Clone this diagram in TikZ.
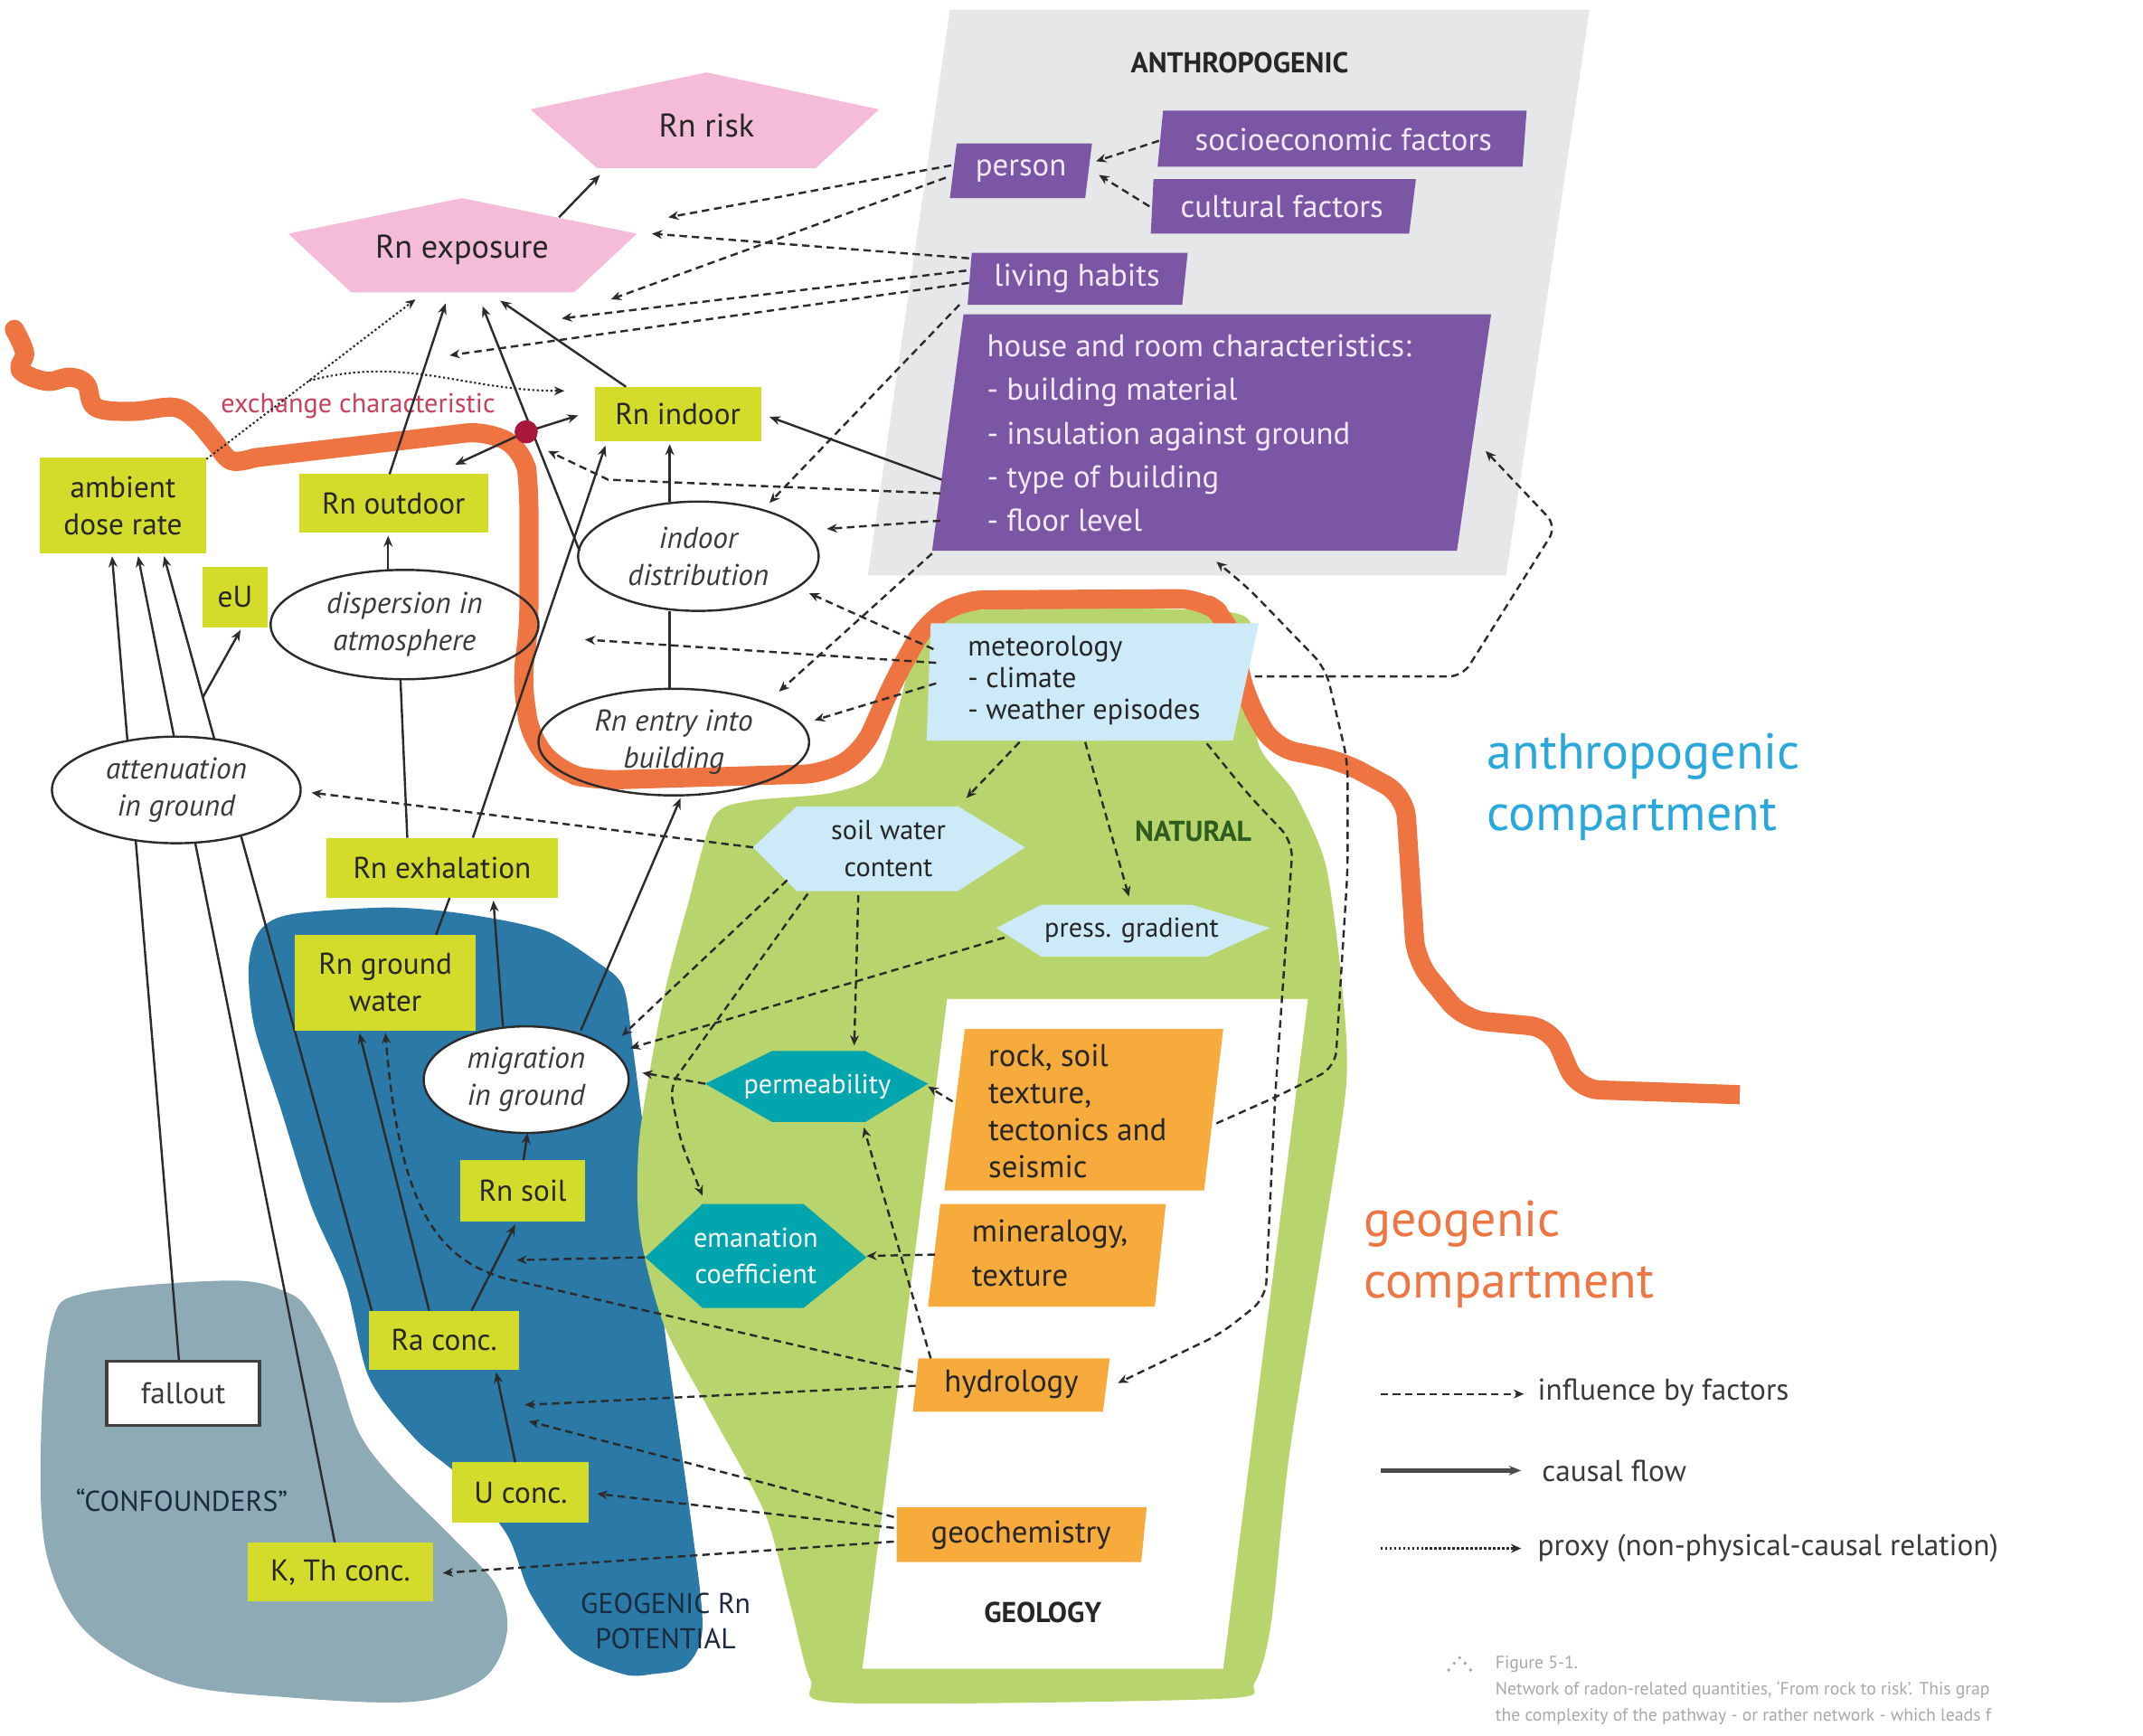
\documentclass[tikz,border=0pt]{standalone}
\usepackage{fontspec}
\setmainfont{PT Sans}
\usetikzlibrary{arrows.meta,calc,shapes.geometric}
\pgfdeclarelayer{back}
\pgfdeclarelayer{front}
\pgfsetlayers{back,main,front}
\definecolor{cGray}{HTML}{E6E7E9}
\definecolor{cOrLine}{HTML}{EE7441}
\definecolor{cGreen}{HTML}{B7D56C}
\definecolor{cBlue}{HTML}{2B79A7}
\definecolor{cConf}{HTML}{8DAAB5}
\definecolor{cYel}{HTML}{D4DC2B}
\definecolor{cPurple}{HTML}{7A56A4}
\definecolor{cPTxt}{HTML}{F2EAFA}
\definecolor{cPink}{HTML}{F4BCD8}
\definecolor{cLBlue}{HTML}{CCEAF8}
\definecolor{cTeal}{HTML}{00A5AE}
\definecolor{cOrBox}{HTML}{F7AB3C}
\definecolor{cRed}{HTML}{A8183A}
\definecolor{cExch}{HTML}{C9405A}
\definecolor{cCyan}{HTML}{2AA8DC}
\definecolor{cGeo}{HTML}{EE7643}
\definecolor{cNat}{HTML}{2E5B1E}
\definecolor{cLine}{HTML}{2B2B2B}
\definecolor{cCap}{HTML}{A8A8A8}
\definecolor{cTxt}{HTML}{262626}
\definecolor{cTxtE}{HTML}{3A3A3A}
\definecolor{cNavy}{HTML}{1B2B3F}
\tikzset{
 ybox/.style={fill=cYel, inner sep=0pt, align=center, text=cTxt, font=\fontsize{22}{27}\selectfont},
 ell/.style={ellipse, draw=cLine, line width=1.6pt, inner sep=0pt},
 etxt/.style={font=\itshape\fontsize{22}{27}\selectfont, align=center, text=cTxtE, inner sep=0pt},
 ptxt/.style={text=cPTxt, font=\fontsize{23}{32}\selectfont, inner sep=0pt},
 btxt/.style={text=cTxt, font=\fontsize{22}{27}\selectfont, inner sep=0pt, align=center},
 ltxt/.style={text=cTxt, font=\fontsize{20}{27}\selectfont, inner sep=0pt, align=center},
 wtxt/.style={text=white, font=\fontsize{20}{26}\selectfont, inner sep=0pt, align=center},
 causal/.style={-{Stealth[length=8pt,width=6.5pt]}, line width=1.6pt, draw=cLine},
 plainln/.style={line width=1.6pt, draw=cLine},
 infl/.style={-{Stealth[length=7.5pt,width=6.5pt]}, line width=1.6pt, draw=cLine, dash pattern=on 5.5pt off 3.5pt},
 proxy/.style={-{Stealth[length=7.5pt,width=6.5pt]}, line width=1.4pt, draw=cLine, dash pattern=on 1.5pt off 1.8pt},
}
\begin{document}
\begin{tikzpicture}[x=1pt,y=-1pt]
\useasboundingbox (0,0) rectangle (1568,1270);

% ---------------- nodes ----------------
\node[ybox, minimum width=122pt, minimum height=40pt] (rnin) at (496,303) {Rn indoor};
\node[ybox, minimum width=138pt, minimum height=43pt] (rnout) at (288,368.5) {Rn outdoor};
\node[ybox, minimum width=122pt, minimum height=70pt] (amb) at (90,370) {ambient\\dose rate};
\node[ybox, minimum width=48pt, minimum height=44pt] (eu) at (172,437) {eU};
\node[ybox, minimum width=169pt, minimum height=44pt] (exh) at (323.5,635) {Rn exhalation};
\node[ybox, minimum width=132pt, minimum height=70pt] (gw) at (282,719) {Rn ground\\water};
\node[ybox, minimum width=91pt, minimum height=45pt] (soil) at (382.5,871.5) {Rn soil};
\node[ybox, minimum width=110pt, minimum height=43pt] (ra) at (325,980.5) {Ra conc.};
\node[ybox, minimum width=100pt, minimum height=44pt] (u) at (381,1092) {U conc.};
\node[ybox, minimum width=136pt, minimum height=43pt] (kth) at (249,1150.5) {K, Th conc.};
\node[draw=black!75, line width=2.5pt, fill=white, minimum width=112pt, minimum height=47pt, inner sep=0pt, text=cTxtE, font=\fontsize{22}{27}\selectfont] (fall) at (134,1019.5) {fallout};

\node[ell, minimum width=176pt, minimum height=80pt] (indist) at (511,407) {};
\node[etxt] (indistT) at (indist) {indoor\\distribution};
\node[ell, minimum width=196pt, minimum height=80pt] (disp) at (296,457) {};
\node[etxt] (dispT) at (disp) {dispersion in\\atmosphere};
\node[ell, minimum width=198pt, minimum height=78pt] (entry) at (493,543) {};
\node[etxt] (entryT) at (entry) {Rn entry into\\building};
\node[ell, minimum width=182pt, minimum height=78pt] (att) at (129,578) {};
\node[etxt] (attT) at (att) {attenuation\\in ground};
\node[ell, minimum width=150pt, minimum height=78pt] (mig) at (385,790) {};
\node[etxt] (migT) at (mig) {migration\\in ground};

\node[btxt, font=\fontsize{24}{28}\selectfont] (risk) at (517,92) {Rn risk};
\node[btxt, font=\fontsize{24}{28}\selectfont] (expo) at (338,183) {Rn exposure};

\node[ptxt] (person) at (747,125) {person};
\node[ptxt] (socio) at (983,102) {socioeconomic factors};
\node[ptxt] (cult) at (938,151) {cultural factors};
\node[ptxt] (hab) at (788,204) {living habits};
\node[ptxt, anchor=west, align=left] (house) at (722,317) {house and room characteristics:\\- building material\\- insulation against ground\\- type of building\\- floor level};

\node[anchor=west, align=left, text=cTxt, font=\fontsize{21}{23}\selectfont, inner sep=0pt] (met) at (708,498) {meteorology\\- climate\\- weather episodes};
\node[ltxt] (swc) at (650,621) {soil water\\content};
\node[ltxt] (press) at (828,681) {press. gradient};
\node[wtxt] (perm) at (598,795) {permeability};
\node[wtxt] (eman) at (553,919) {emanation\\coefficient};
\node[btxt, anchor=west, align=left, font=\fontsize{23}{27}\selectfont] (rock) at (723,813) {rock, soil\\texture,\\tectonics and\\seismic};
\node[btxt, anchor=west, align=left, font=\fontsize{23}{32}\selectfont] (mineral) at (711,917) {mineralogy,\\texture};
\node[btxt, font=\fontsize{23}{27}\selectfont] (hydro) at (740,1013) {hydrology};
\node[btxt, font=\fontsize{23}{27}\selectfont] (geo) at (747,1123) {geochemistry};

\node[circle, minimum size=17pt, inner sep=0pt] (xd) at (385,316) {};

% labels
\node[btxt, font=\bfseries\fontsize{21}{25}\selectfont] (anthlbl) at (907,46) {ANTHROPOGENIC};
\node[btxt, text=cNat, font=\bfseries\fontsize{21}{25}\selectfont] (natlbl) at (873,608) {NATURAL};
\node[btxt, font=\bfseries\fontsize{21}{25}\selectfont] (geollbl) at (763,1180) {GEOLOGY};
\node[btxt, text=cNavy, font=\fontsize{21}{26}\selectfont] (gpot) at (487,1186) {GEOGENIC Rn\\POTENTIAL};
\node[btxt, text=cNavy, font=\fontsize{21}{25}\selectfont] (conf) at (133,1098) {``CONFOUNDERS''};
\node[btxt, text=cExch, font=\fontsize{20}{24}\selectfont] (exlbl) at (262,297) {exchange characteristic};
\node[anchor=west, align=left, inner sep=0pt, text=cCyan, font=\fontsize{37}{45}\selectfont] (acomp) at (1088,576) {anthropogenic\\compartment};
\node[anchor=west, align=left, inner sep=0pt, text=cGeo, font=\fontsize{37}{45}\selectfont] (gcomp) at (998,918) {geogenic\\compartment};

% legend
\coordinate (la1) at (1010,1020); \coordinate (la2) at (1115,1020);
\coordinate (lb1) at (1010,1076); \coordinate (lb2) at (1113,1076);
\coordinate (lc1) at (1010,1133); \coordinate (lc2) at (1113,1133);
\node[anchor=west, inner sep=0pt, text=cTxtE, font=\fontsize{22}{27}\selectfont] (lgA) at (1125,1019) {influence by factors};
\node[anchor=west, inner sep=0pt, text=cTxtE, font=\fontsize{22}{27}\selectfont] (lgB) at (1128,1076) {causal flow};
\node[anchor=west, inner sep=0pt, text=cTxtE, font=\fontsize{22}{27}\selectfont] (lgC) at (1125,1133) {proxy (non-physical-causal relation)};

% caption
\begin{scope}
\clip (0,0) rectangle (1568,1270);
\node[anchor=west, align=left, inner sep=0pt, text=cCap, font=\fontsize{13}{19}\selectfont] (cap) at (1094,1237) {Figure 5-1.\\Network of radon-related quantities, `From rock to risk'. This grap\\the complexity of the pathway - or rather network - which leads f};
\end{scope}
\fill[cCap] (1060,1222) circle (1.3pt) (1064,1217) circle (1.3pt) (1068,1213) circle (1.3pt) (1072,1217) circle (1.3pt) (1076,1222) circle (1.3pt);

% ---------------- background layer ----------------
\begin{pgfonlayer}{back}
\fill[white] (0,0) rectangle (1568,1270);
\fill[cGray] (695,7) -- (1163,7) -- (1102,421) -- (635,421) -- cycle;
\fill[cConf] plot[smooth cycle, tension=0.55] coordinates {(38,968) (63,946) (169,937) (211,946) (228,962) (245,996) (262,1047) (287,1081) (329,1123) (363,1160) (371,1194) (354,1228) (304,1245) (211,1242) (127,1231) (63,1194) (34,1137) (30,1053)};
\fill[cBlue] plot[smooth cycle, tension=0.5] coordinates {(190,681) (213,669) (285,664) (342,669) (399,681) (437,704) (456,722) (463,766) (470,820) (477,866) (486,970) (505,1108) (514,1190) (502,1219) (477,1225) (456,1225) (418,1208) (388,1166) (371,1123) (337,1081) (304,1053) (270,1008) (253,940) (228,883) (205,810) (186,751) (182,707)};
\fill[cGreen] plot[smooth cycle, tension=0.45] coordinates {(522,598) (549,586) (609,580) (644,562) (668,480) (690,448) (900,448) (912,480) (921,545) (947,580) (970,633) (982,722) (985,794) (967,915) (943,1067) (930,1188) (918,1231) (893,1243) (616,1246) (593,1229) (579,1177) (560,1108) (523,1039) (486,970) (468,900) (468,831) (486,728) (503,663)};
\fill[white] (693,731) -- (957,731) -- (895,1221) -- (631,1221) -- cycle;
% causal lines passing behind the attenuation ellipse
\draw[causal] ($(fall)+(-3,-23.5)$) -- ($(amb)+(-8,37)$);
\draw[causal] ($(kth)+(-4,-21.5)$) -- ($(amb)+(11,37)$);
\draw[causal] ($(ra)+(-53,-21.5)$) -- coordinate[pos=0.813] (eubr) ($(amb)+(30,37)$);
\draw[causal] (eubr) -- ($(eu)+(4,24)$);
% ellipse fills
\fill[white] (indist.center) ellipse[x radius=88pt, y radius=40pt];
\fill[white] (disp.center) ellipse[x radius=98pt, y radius=40pt];
\fill[white] (entry.center) ellipse[x radius=99pt, y radius=39pt];
\fill[white] (att.center) ellipse[x radius=91pt, y radius=39pt];
\fill[white] (mig.center) ellipse[x radius=75pt, y radius=39pt];
% orange boundary
\draw[cOrLine, line width=14pt, line cap=round, line join=round] plot[smooth, tension=0.6] coordinates {(10.5,241) (18,258) (15,271) (34,279) (51,276) (63,281) (70,298) (97,301) (127,298) (143,307) (156,322) (169,337) (186,335)};
\draw[cOrLine, line width=14pt, line join=round, rounded corners=16pt] (186,335) -- (357,315) -- (384,330) -- (387,358) -- (387,459) -- (382,497) -- (388,540) -- (410,565) -- (436,571) -- (604,566) -- (631,550) -- (654,498) -- (678,455) -- (705,439) -- (878,438) -- (898,452) -- (912,511) -- (932,547) -- (982,557) -- (1028,582) -- (1036,703) -- (1071,746) -- (1135,752) -- (1154,797) -- (1273,801);
% shapes
\fill[cPink] (517,53) -- (643,80) -- (597,123) -- (437,123) -- (388,80) -- cycle;
\fill[cPink] (338,145) -- (466,171) -- (420,214) -- (257,214) -- (211,171) -- cycle;
\fill[cPurple] (700,105) -- (799,105) -- (794,145) -- (695,145) -- cycle;
\fill[cPurple] (851,81) -- (1117,81) -- (1114,122) -- (847,122) -- cycle;
\fill[cPurple] (844,131) -- (1036,131) -- (1031,171) -- (842,171) -- cycle;
\fill[cPurple] (711,185) -- (869,185) -- (865,223) -- (708,223) -- cycle;
\fill[cPurple] (705,230) -- (1091,230) -- (1066,403) -- (682,403) -- cycle;
\fill[cLBlue] (681,456) -- (921,456) -- (902,542) -- (678,542) -- cycle;
\fill[cLBlue] (551,620) -- (583,590) -- (701,590) -- (750,620) -- (701,652) -- (583,652) -- cycle;
\fill[cLBlue] (729,679) -- (762,662) -- (872,662) -- (929,679) -- (883,700) -- (762,700) -- cycle;
\fill[cTeal] (516,793) -- (565,769) -- (633,769) -- (679,793) -- (633,821) -- (565,821) -- cycle;
\fill[cTeal] (472,920) -- (514,881) -- (588,881) -- (634,920) -- (588,957) -- (514,957) -- cycle;
\fill[cOrBox] (706,753) -- (895,753) -- (881,871) -- (691,871) -- cycle;
\fill[cOrBox] (688,881) -- (853,881) -- (845,956) -- (679,956) -- cycle;
\fill[cOrBox] (672,994) -- (812,994) -- (807,1033) -- (668,1033) -- cycle;
\fill[cOrBox] (656,1103) -- (839,1103) -- (835,1143) -- (656,1143) -- cycle;
\end{pgfonlayer}

% ---------------- connectors ----------------
\begin{pgfonlayer}{front}
% causal flow
\draw[causal] ($(expo)+(71,-24)$) -- ($(risk)+(-78,36)$);
\draw[causal] ($(rnout)+(-3,-21.5)$) -- ($(expo)+(-12,39)$);
\draw[causal] ($(rnin)+(-38,-20)$) -- ($(expo)+(28,37)$);
\draw[causal] ($(indist)+(-87,-4)$) -- ($(expo)+(15,41)$);
\draw[causal] ($(disp)+(-12,-40)$) -- ($(rnout)+(-4,23.5)$);
\draw[plainln] ($(exh)+(-25.5,-22)$) -- ($(disp)+(-3,40)$);
\draw[plainln] ($(entry)+(-3,-39)$) -- ($(indist)+(-21,40)$);
\draw[causal] ($(indist)+(-21,-40)$) -- ($(rnin)+(-6,22)$);
\draw[causal] ($(house.west)+(-33,34)$) -- ($(rnin)+(67,2)$);
\draw[causal] ($(mig)+(40,-36)$) -- ($(entry)+(5,41)$);
\draw[causal] ($(exh)+(22.5,-22)$) -- ($(rnin)+(-53,23)$);
\draw[plainln] ($(gw)+(37,-35)$) -- ($(exh)+(5.5,22)$);
\draw[causal] ($(mig)+(-17,-39)$) -- ($(exh)+(37.5,24)$);
\draw[causal] ($(soil)+(0.5,-22.5)$) -- ($(mig)+(1,39)$);
\draw[causal] ($(ra)+(20,-21.5)$) -- ($(soil)+(-5.5,24.5)$);
\draw[causal] ($(ra)+(-11,-21.5)$) -- ($(gw)+(-19,37)$);
\draw[causal] ($(u)+(-4,-22)$) -- ($(ra)+(38,23.5)$);
% exchange characteristic
\draw[{Stealth[length=8pt,width=6.5pt]}-{Stealth[length=8pt,width=6.5pt]}, line width=1.6pt, draw=cLine] ($(rnout)+(45,-28.5)$) -- (xd.center) -- ($(rnin)+(-73,1)$);
\fill[cRed] (xd.center) circle (8.5pt);
% proxies
\draw[proxy] ($(amb)+(61,-34)$) -- coordinate[pos=0.49] (pxb) ($(expo)+(-34,36)$);
\draw[proxy] (pxb) to[out=15,in=180] ($(rnin)+(-83,-17)$);
% influences
\draw[infl] ($(person)+(-51,-4)$) -- ($(expo)+(151,-24)$);
\draw[infl] ($(person)+(-55,5)$) -- ($(expo)+(109,36)$);
\draw[infl] ($(hab)+(-79,-15)$) -- ($(expo)+(139,-12)$);
\draw[infl] ($(hab)+(-81,-6)$) -- ($(expo)+(73,50)$);
\draw[infl] ($(hab)+(-79,3)$) -- ($(expo)+(-9,77)$);
\draw[infl] ($(hab)+(-86,19)$) -- ($(indist)+(52,-39)$);
\draw[infl] ($(house.west)+(-40,88)$) -- ($(entry)+(77,-37)$);
\draw[infl] ($(house.west)+(-34,44)$) -- (445,351) -- ($(xd)+(16,14)$);
\draw[infl] ($(house.west)+(-34,64)$) -- ($(indist)+(94,-20)$);
\draw[infl] ($(met.west)+(-25,-23)$) -- ($(indist)+(81,27)$);
\draw[infl] ($(met.west)+(-23,-13)$) -- ($(disp)+(132,11)$);
\draw[infl] ($(met.west)+(-23,2)$) -- ($(entry)+(103,-16)$);
\draw[infl] ($(met.west)+(38,45)$) -- ($(swc)+(57,-37)$);
\draw[infl] ($(met.west)+(86,45)$) -- ($(press)+(-2,-25)$);
\draw[infl, rounded corners=10pt] ($(met.west)+(210,-3)$) -- (1070,495) -- (1139,385) -- ($(house.west)+(365,13)$);
\draw[infl, rounded corners=12pt] ($(rock.west)+(167,9)$) -- (935,802) -- (977,781) -- (986,637) -- (986,557) -- (970,489) -- (913,430) -- ($(house.west)+(168,94)$);
\draw[infl, rounded corners=12pt] ($(met.west)+(175,46)$) -- (913,581) -- (946,616) -- (933,802) -- (926,950) -- (893,976) -- ($(hydro)+(78,-1)$);
\draw[infl] ($(swc)+(-99,-1)$) -- ($(att)+(99,2)$);
\draw[infl] ($(swc)+(-74,23)$) -- ($(mig)+(70,-32)$);
\draw[infl, rounded corners=10pt] ($(swc)+(-59,33)$) -- (490,795) -- (498,835) -- ($(eman)+(-39,-44)$);
\draw[infl] ($(swc)+(-22,34)$) -- ($(perm)+(27,-30)$);
\draw[infl] ($(press)+(-93,5)$) -- ($(mig)+(76,-23)$);
\draw[infl] ($(perm)+(-82,-2)$) -- ($(mig)+(85,-5)$);
\draw[infl] ($(rock.west)+(-26,-7)$) -- ($(perm)+(81,0)$);
\draw[infl] ($(mineral.west)+(-27,1)$) -- ($(eman)+(81,0)$);
\draw[infl] ($(hydro)+(-59,-19)$) -- ($(perm)+(34,30)$);
\draw[infl] ($(eman)+(-81,1)$) -- ($(soil)+(-4.5,50.5)$);
\draw[infl] ($(hydro)+(-72,-9)$) -- (368,935) .. controls (318,920) and (292,880) .. ($(gw)+(0,37)$);
\draw[infl] ($(hydro)+(-70,1)$) -- ($(ra)+(59,47.5)$);
\draw[infl] ($(geo)+(-93,-13)$) -- ($(ra)+(62,59.5)$);
\draw[infl] ($(geo)+(-93,-5)$) -- ($(u)+(56,1)$);
\draw[infl] ($(geo)+(-93,5)$) -- ($(kth)+(75,0.5)$);
\draw[infl] ($(socio)+(-135,1)$) -- ($(person)+(55,-7)$);
\draw[infl] ($(cult)+(-97,0)$) -- ($(person)+(57,3)$);
% legend
\draw[infl] (la1) -- (la2);
\draw[-{Stealth[length=9pt,width=7pt]}, line width=3.5pt, draw=black!70] (lb1) -- (lb2);
\draw[proxy] (lc1) -- (lc2);
\end{pgfonlayer}
\end{tikzpicture}
\end{document}
